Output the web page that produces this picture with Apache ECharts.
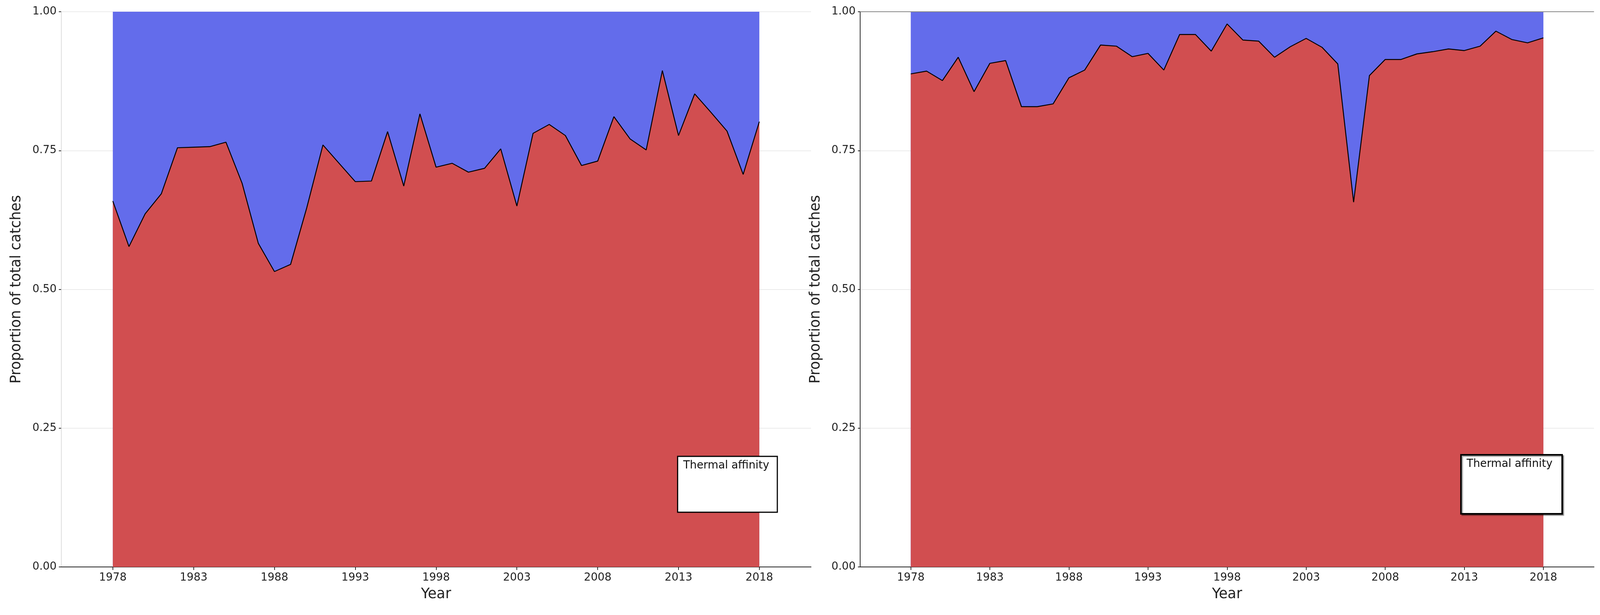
<!DOCTYPE html>
<html><head><meta charset="utf-8">
<script src="https://cdn.jsdelivr.net/npm/echarts@6/dist/echarts.min.js"></script>
<style>html,body{margin:0;padding:0;background:#fff;overflow:hidden}#c{width:100vw;height:100vh}</style>
</head><body><div id="c"></div>
<script>
const years = [];
for (let y = 1978; y <= 2018; y++) years.push(y);
const xTicks = [1978, 1983, 1988, 1993, 1998, 2003, 2008, 2013, 2018];
const warmLeft = [0.659,0.577,0.636,0.672,0.755,0.756,0.757,0.765,0.691,0.583,0.532,0.545,0.647,0.760,0.727,0.694,0.695,0.784,0.686,0.816,0.720,0.727,0.711,0.718,0.753,0.650,0.781,0.797,0.777,0.723,0.731,0.811,0.771,0.751,0.894,0.777,0.852,0.819,0.785,0.707,0.802];
const warmRight = [0.888,0.893,0.876,0.918,0.856,0.907,0.912,0.829,0.829,0.834,0.881,0.895,0.940,0.938,0.919,0.925,0.895,0.959,0.959,0.929,0.978,0.949,0.947,0.918,0.937,0.952,0.936,0.906,0.657,0.885,0.914,0.914,0.924,0.928,0.933,0.930,0.938,0.965,0.950,0.944,0.953];
const coldLeft = warmLeft.map(v => +(1 - v).toFixed(3));
const coldRight = warmRight.map(v => +(1 - v).toFixed(3));

const BLUE = '#636CEB', RED = '#D14E50', FONT = 'DejaVu Sans';
const el = document.getElementById('c');
const W = el.clientWidth || window.innerWidth, H = el.clientHeight || window.innerHeight;
const sx = W / 4269, sy = H / 1574, s = Math.min(sx, sy);
const X = v => v * sx, Y = v => v * sy, S = v => v * s;
const chart = echarts.init(el);

function xAxis(i) {
  return {type:'value', gridIndex:i, min:1974.8, max:2021.2,
    name:'Year', nameLocation:'middle', nameGap:S(55), nameTextStyle:{fontFamily:FONT,fontSize:S(38),color:'#222'},
    axisLine:{show:true,onZero:false,lineStyle:{color:'#222',width:S(2)}},
    axisTick:{show:true,customValues:xTicks,length:S(8),lineStyle:{color:'#222',width:S(2)}},
    axisLabel:{customValues:xTicks,fontFamily:FONT,fontSize:S(29),color:'#222',margin:S(14),formatter:v=>String(v)},
    splitLine:{show:false}};
}
function yAxis(i, lineColor) {
  return {type:'value', gridIndex:i, min:0, max:1, interval:0.25,
    name:'Proportion of total catches', nameLocation:'middle', nameGap:S(100),
    nameTextStyle:{fontFamily:FONT,fontSize:S(38),color:'#222'},
    axisLine:{show:true,lineStyle:{color:lineColor,width:S(2)}},
    axisTick:{show:true,length:S(6),lineStyle:{color:'#222',width:S(2)}},
    axisLabel:{fontFamily:FONT,fontSize:S(29),color:'#222',margin:S(12),formatter:v=>v.toFixed(2)},
    splitLine:{show:true,lineStyle:{color:'#ebebeb',width:S(2)}}};
}
function series(i, warm, cold) {
  return [
    {name:'Cold water', type:'line', xAxisIndex:i, yAxisIndex:i,
     data:years.map((y,k)=>[y, +(warm[k] + cold[k]).toFixed(3)]),
     showSymbol:false, symbol:'none', lineStyle:{width:0,color:BLUE}, areaStyle:{color:BLUE,opacity:1,origin:'start'},
     itemStyle:{color:BLUE,borderColor:'#000',borderWidth:S(3)}, z:1},
    {name:'Warm water', type:'line', xAxisIndex:i, yAxisIndex:i, data:years.map((y,k)=>[y, warm[k]]),
     showSymbol:false, symbol:'none', lineStyle:{color:'#000',width:S(2.5)}, areaStyle:{color:RED,opacity:1,origin:'start'},
     itemStyle:{color:RED,borderColor:'#000',borderWidth:S(3)}, z:2}
  ];
}
function legend(left, top) {
  return {data:['Cold water','Warm water'], orient:'vertical', left:X(left), top:Y(top), itemWidth:S(34), itemHeight:S(32), itemGap:S(4),
    icon:'rect', textStyle:{fontFamily:FONT,fontSize:S(29),color:'#111',padding:[0,0,0,S(18)]}, padding:0};
}
chart.setOption({
  animation:false,
  backgroundColor:'#fff',
  grid:[{left:X(163),right:X(4269-2164),top:Y(30),bottom:Y(123)},{left:X(2295),right:X(16),top:Y(30),bottom:Y(123)}],
  xAxis:[xAxis(0),xAxis(1)],
  yAxis:[yAxis(0,'#ddd'),yAxis(1,'#222')],
  legend:[legend(1826,1224), legend(3914,1222)],
  series:[...series(0,warmLeft,coldLeft), ...series(1,warmRight,coldRight)],
  graphic:[
    {type:'rect',shape:{x:X(1808),y:Y(1168),width:X(266),height:Y(143)},style:{fill:'#fff',stroke:'#000',lineWidth:S(3)},z:50},
    {type:'text',x:X(1823),y:Y(1178),style:{text:'Thermal affinity',fontFamily:FONT,fontSize:S(29),fill:'#111'},z:100},
    {type:'rect',shape:{x:X(3898),y:Y(1164),width:X(270),height:Y(151)},style:{fill:'#fff',stroke:'#000',lineWidth:S(4),shadowColor:'rgba(0,0,0,0.4)',shadowOffsetX:3,shadowOffsetY:3,shadowBlur:2},z:50},
    {type:'text',x:X(3913),y:Y(1174),style:{text:'Thermal affinity',fontFamily:FONT,fontSize:S(29),fill:'#111'},z:100},
    {type:'line',shape:{x1:X(2295),y1:Y(30),x2:X(4253),y2:Y(30)},style:{stroke:'#888',lineWidth:S(2)},z:100}
  ]
});
</script></body></html>
